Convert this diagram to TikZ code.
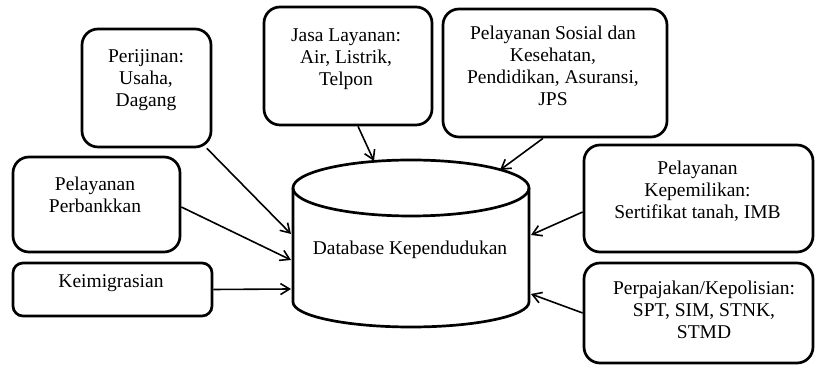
\documentclass[tikz,border=0pt]{standalone}
\usepackage{fontspec}
\setmainfont{Liberation Serif}
\usetikzlibrary{arrows.meta}
\begin{document}
\begin{tikzpicture}[x=1pt,y=1pt,
	kotak/.style={draw,line width=2.7pt,rounded corners=16pt},
	teks/.style={align=center,inner sep=0pt,font=\fontsize{19.5}{22}\selectfont},
	panah/.style={line width=1.6pt,-{Straight Barb[length=9pt,width=11pt]}}]
					\useasboundingbox (0,0) rectangle (815,366);
					\node[kotak,minimum width=129pt,minimum height=118pt] (ijin) at (146.5,278) {};
					\node[teks] (ijin-t) at (146,286) {Perijinan:\\Usaha,\\Dagang};
					\node[kotak,minimum width=168pt,minimum height=118pt] (jasa) at (348,300) {};
					\node[teks] (jasa-t) at (346,307) {Jasa Layanan:\\Air, Listrik,\\Telpon};
					\node[kotak,minimum width=224pt,minimum height=128pt] (sosial) at (555,293) {};
					\node[teks] (sosial-t) at (553,300) {Pelayanan Sosial dan\\Kesehatan,\\Pendidikan, Asuransi,\\JPS};
					\node[kotak,minimum width=167pt,minimum height=95pt] (bank) at (96.5,161.5) {};
					\node[teks] (bank-t) at (95,171.5) {Pelayanan\\Perbankkan};
					\node[kotak,rounded corners=10pt,minimum width=199pt,minimum height=53pt] (imigrasi) at (112.5,76.5) {};
					\node[teks] (imigrasi-t) at (111,83) {Keimigrasian};
					\node[kotak,minimum width=229pt,minimum height=107pt] (milik) at (698.5,167.5) {};
					\node[teks] (milik-t) at (697.5,175) {Pelayanan\\Kepemilikan:\\Sertifikat tanah, IMB};
					\node[kotak,minimum width=229pt,minimum height=100pt] (pajak) at (698.5,53) {};
					\node[teks] (pajak-t) at (704,56) {Perpajakan/Kepolisian:\\SPT, SIM, STNK,\\STMD};
					\draw[line width=2.7pt] (411,178) ellipse [x radius=118,y radius=28];
					\draw[line width=2.7pt] (293,178) -- (293,64) arc[start angle=180,end angle=360,x radius=118,y radius=25] -- (529,178);
					\node[teks] (db) at (410,116) {Database Kependudukan};
					\coordinate (db-a) at (291,132);
					\coordinate (db-b) at (374,205);
					\coordinate (db-c) at (500,196);
					\coordinate (db-d) at (291,106);
					\coordinate (db-e) at (291,77);
					\coordinate (db-f) at (531,131);
					\coordinate (db-g) at (531,72);
					\draw[panah] (ijin.-45) -- (db-a);
					\draw[panah] ([xshift=10pt]jasa.south) -- (db-b);
					\draw[panah] ([xshift=-12pt]sosial.south) -- (db-c);
					\draw[panah] ([yshift=-2.5pt]bank.east) -- (db-d);
					\draw[panah] (imigrasi.east) -- (db-e);
					\draw[panah] ([yshift=-13.5pt]milik.west) -- (db-f);
					\draw[panah] (pajak.west) -- (db-g);
				\end{tikzpicture}
\end{document}
